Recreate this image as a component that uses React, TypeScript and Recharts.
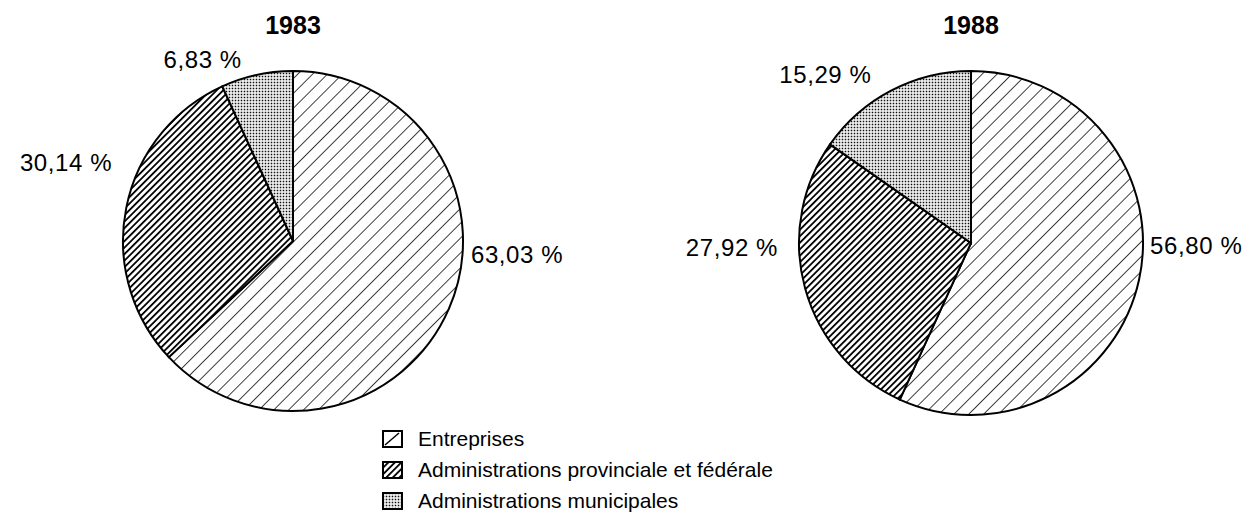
import React from 'react';
import { PieChart, Pie, Cell } from 'recharts';

const categories = ['Entreprises', 'Administrations provinciale et fédérale', 'Administrations municipales'];
const years = ['1983', '1988'];
const values1983 = [63.03, 30.14, 6.83];
const values1988 = [56.8, 27.92, 15.29];

const fills = ['url(#hatchLight)', 'url(#hatchDark)', 'url(#dots)'];
const FONT = '"Liberation Sans", Arial, Helvetica, sans-serif';
const RADIAN = Math.PI / 180;

// label nudges from the slice's outer mid-point: [dx, dy, anchor]
const nudges1983: [number, number, string][] = [
    [22, -54, 'start'],
    [-14, -46, 'end'],
    [-15, -15, 'end'],
];
const nudges1988: [number, number, string][] = [
    [11, -34, 'start'],
    [-27, -41, 'end'],
    [-20, -16, 'end'],
];

const fmt = (v: number) => v.toFixed(2).replace('.', ',') + ' %';

const makeLabel = (nudges: [number, number, string][]) => (props: any) => {
    const { cx, cy, midAngle, outerRadius, index, value } = props;
    const x = cx + outerRadius * Math.cos(-midAngle * RADIAN);
    const y = cy + outerRadius * Math.sin(-midAngle * RADIAN);
    const [dx, dy, anchor] = nudges[index];
    return (
        <text
            x={x + dx}
            y={y + dy}
            textAnchor={anchor}
            dominantBaseline="central"
            fill="#000"
            stroke="none"
            style={{ fontFamily: FONT, fontSize: 24, letterSpacing: 0.6 }}
        >
            {fmt(value)}
        </text>
    );
};

const toRows = (vals: number[]) => categories.map((name, i) => ({ name, value: vals[i] }));

const Patterns = () => (
    <svg width={0} height={0} style={{ position: 'absolute' }}>
        <defs>
            <pattern id="hatchLight" patternUnits="userSpaceOnUse" width={10.5} height={10.5} patternTransform="rotate(45)">
                <rect width={10.5} height={10.5} fill="#fff" />
                <line x1={0} y1={0} x2={0} y2={10.5} stroke="#000" strokeWidth={1.5} />
            </pattern>
            <pattern id="hatchDark" patternUnits="userSpaceOnUse" width={4.6} height={4.6} patternTransform="rotate(45)">
                <rect width={4.6} height={4.6} fill="#fff" />
                <line x1={0} y1={0} x2={0} y2={4.6} stroke="#000" strokeWidth={3.6} />
            </pattern>
            <pattern id="dots" patternUnits="userSpaceOnUse" width={3} height={3}>
                <rect width={3} height={3} fill="#fff" />
                <rect x={0.7} y={0.7} width={1.6} height={1.6} fill="#111" />
            </pattern>
        </defs>
    </svg>
);

// recharts adds the 5px default margin to numeric cx / cy
const PieBlock = ({ left, width, cx, cy, r, year, vals, nudges }: any) => (
    <div style={{ position: 'absolute', left, top: 0, width, height: 517 }}>
        <div
            style={{
                position: 'absolute',
                left: cx - 60,
                width: 120,
                top: 11,
                textAlign: 'center',
                fontFamily: FONT,
                fontWeight: 'bold',
                fontSize: 25,
                lineHeight: '28px',
            }}
        >
            {year}
        </div>
        <PieChart width={width} height={517}>
            <Pie
                data={toRows(vals)}
                dataKey="value"
                nameKey="name"
                cx={cx - 5}
                cy={cy - 5}
                outerRadius={r}
                startAngle={90}
                endAngle={-270}
                stroke="#000"
                strokeWidth={2}
                labelLine={false}
                label={makeLabel(nudges)}
                isAnimationActive={false}
            >
                {vals.map((_: number, i: number) => (
                    <Cell key={i} fill={fills[i]} />
                ))}
            </Pie>
        </PieChart>
    </div>
);

const LegendIcon = ({ i }: { i: number }) => (
    <svg width={21} height={18} style={{ display: 'block' }}>
        <rect x={1} y={1} width={19} height={16} fill={i === 0 ? '#fff' : fills[i]} stroke="#000" strokeWidth={2} />
        {i === 0 && <line x1={3} y1={15} x2={17} y2={3} stroke="#000" strokeWidth={1.5} />}
    </svg>
);

export default function App() {
    return (
        <div style={{ position: 'absolute', left: 0, top: 0, width: 1251, height: 517, background: '#fff', overflow: 'hidden' }}>
            <Patterns />
            <PieBlock left={0} width={625} cx={293} cy={241} r={170} year={years[0]} vals={values1983} nudges={nudges1983} />
            <PieBlock left={625} width={626} cx={346} cy={243} r={172} year={years[1]} vals={values1988} nudges={nudges1988} />
            <div style={{ position: 'absolute', left: 382, top: 423, fontFamily: FONT, fontSize: 21 }}>
                {categories.map((c, i) => (
                    <div key={c} style={{ display: 'flex', alignItems: 'center', height: 31 }}>
                        <LegendIcon i={i} />
                        <span style={{ marginLeft: 15 }}>{c}</span>
                    </div>
                ))}
            </div>
        </div>
    );
}
